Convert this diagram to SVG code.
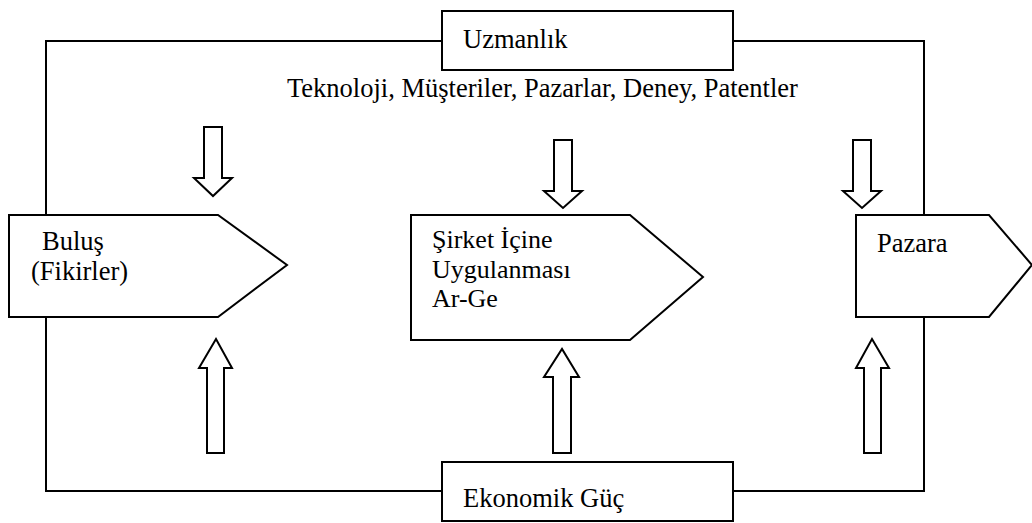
<svg xmlns="http://www.w3.org/2000/svg" width="1032" height="523" viewBox="0 0 1032 523">
<style>
.s{fill:#fff;stroke:#000;stroke-width:2}
.a{fill:#fff;stroke:#000;stroke-width:2;stroke-linejoin:miter}
.l{fill:none;stroke:#000;stroke-width:2}
</style>
<rect width="1032" height="523" fill="#fff"/>
<g id="connectors">
<polyline class="l" points="442,41 46,41 46,215"/>
<polyline class="l" points="733,41 924,41 924,215"/>
<polyline class="l" points="46,317 46,491 442,491"/>
<polyline class="l" points="924,317 924,491 733,491"/>
<polygon class="a" points="204,127 222,127 222,178 232,178 213,196 194,178 204,178"/>
<polygon class="a" points="554,140 572,140 572,191 582,191 563,208 544,191 554,191"/>
<polygon class="a" points="853,140 871,140 871,191 881,191 862,208 843,191 853,191"/>
<polygon class="a" points="207,453 224,453 224,368 232,368 216,339 199,368 207,368"/>
<polygon class="a" points="553,453 571,453 571,377 579,377 562,349 544,377 553,377"/>
<polygon class="a" points="864,453 881,453 881,368 889,368 872,339 856,368 864,368"/>
</g>
<g font-family="'Liberation Serif', 'Times New Roman', 'DejaVu Serif', serif" font-size="26.5" fill="#000">
<g id="uzmanlik">
<rect class="s" x="442" y="11" width="291" height="59"/>
<text x="463" y="48">Uzmanlık</text>
</g>
<g id="kaynaklar">
<text x="287" y="97">Teknoloji, Müşteriler, Pazarlar, Deney, Patentler</text>
</g>
<g id="bulus">
<polygon class="s" points="9,215 218,215 287,265 218,317 9,317"/>
<text x="42" y="250">Buluş</text>
<text x="31" y="280">(Fikirler)</text>
</g>
<g id="sirket" font-size="26">
<polygon class="s" points="411,215 630,215 703,277 630,340 411,340"/>
<text x="432" y="248">Şirket İçine</text>
<text x="432" y="277.5">Uygulanması</text>
<text x="432" y="307">Ar-Ge</text>
</g>
<g id="pazara">
<polygon class="s" points="856,215 989,215 1032,265 989,317 856,317"/>
<text x="877" y="252">Pazara</text>
</g>
<g id="ekonomik">
<rect class="s" x="442" y="462" width="291" height="59"/>
<text x="463" y="507">Ekonomik Güç</text>
</g>
</g>
</svg>
